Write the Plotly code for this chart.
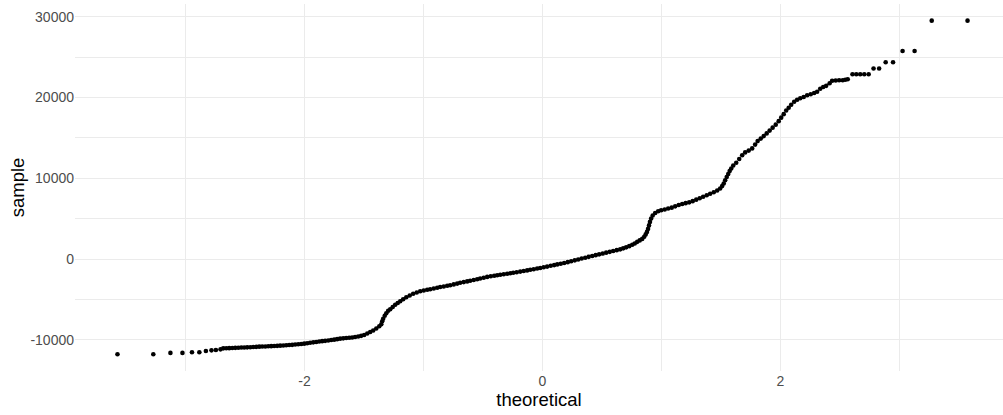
import plotly.graph_objects as go

# Theoretical normal quantiles (x) and sorted sample values (y)
theoretical = [
    -3.572, -3.271, -3.127, -3.026, -2.946, -2.884, -2.829, -2.782, -2.745, -2.706,
    -2.683, -2.658, -2.633, -2.607, -2.582, -2.557, -2.532, -2.507, -2.482, -2.456,
    -2.431, -2.406, -2.381, -2.356, -2.330, -2.305, -2.280, -2.255, -2.230, -2.205,
    -2.179, -2.154, -2.129, -2.104, -2.079, -2.053, -2.028, -2.003, -1.978, -1.953,
    -1.927, -1.902, -1.877, -1.852, -1.827, -1.801, -1.776, -1.751, -1.726, -1.701,
    -1.675, -1.650, -1.625, -1.600, -1.575, -1.549, -1.524, -1.499,
    -1.473, -1.448, -1.423, -1.397, -1.372, -1.355, -1.347, -1.339, -1.326, -1.313,
    -1.297, -1.280, -1.259, -1.238, -1.217, -1.196, -1.171, -1.145, -1.116, -1.087,
    -1.057, -1.028, -0.998, -0.969, -0.944, -0.914, -0.885, -0.860, -0.830, -0.801,
    -0.776, -0.746, -0.717, -0.692, -0.662, -0.633, -0.608, -0.578, -0.549, -0.524,
    -0.494, -0.465, -0.435, -0.406, -0.381, -0.355, -0.326, -0.297, -0.271, -0.246,
    -0.217, -0.187, -0.158, -0.129, -0.103, -0.074, -0.045, -0.019, 0.010, 0.039,
    0.069, 0.098, 0.124, 0.153, 0.182, 0.212, 0.241, 0.271, 0.300, 0.329,
    0.359, 0.388, 0.418, 0.447, 0.476, 0.506, 0.535, 0.565, 0.594, 0.624,
    0.653, 0.678, 0.703, 0.729, 0.754, 0.775, 0.796, 0.817, 0.838, 0.855,
    0.867, 0.878, 0.887, 0.895, 0.903, 0.913, 0.926, 0.947, 0.972, 0.997,
    1.027, 1.056, 1.086, 1.115, 1.145, 1.174, 1.203, 1.233, 1.262, 1.292,
    1.321, 1.350, 1.380, 1.409, 1.439, 1.468, 1.493, 1.510, 1.523, 1.535,
    1.548, 1.561, 1.573, 1.586, 1.603, 1.628, 1.653, 1.678, 1.703, 1.733,
    1.762, 1.787, 1.808, 1.834, 1.859, 1.884, 1.909, 1.934, 1.960, 1.985,
    2.006, 2.027, 2.048, 2.069, 2.090, 2.115, 2.140, 2.166, 2.195, 2.224,
    2.254, 2.283, 2.308, 2.334, 2.359, 2.384, 2.413, 2.434, 2.464, 2.493,
    2.523, 2.544, 2.565,
    2.605, 2.637, 2.670, 2.704, 2.741, 2.782, 2.829, 2.884, 2.946, 3.026,
    3.127, 3.271, 3.572,
]

sample = [
    -11778, -11778, -11605, -11605, -11531, -11531, -11358, -11284, -11235, -11161,
    -11037, -11025, -11013, -10988, -10976, -10963, -10939, -10926, -10914, -10902,
    -10877, -10852, -10827, -10815, -10803, -10778, -10766, -10741, -10729, -10704,
    -10679, -10655, -10630, -10605, -10568, -10531, -10494, -10457, -10408, -10346,
    -10297, -10247, -10198, -10148, -10111, -10062, -10013, -9963, -9902, -9840,
    -9803, -9766, -9729, -9692, -9642, -9581, -9494, -9383,
    -9198, -9013, -8827, -8581, -8297, -8050, -7679, -7371, -7000, -6692,
    -6383, -6198, -5914, -5642, -5420, -5210, -4963, -4716, -4494, -4284,
    -4124, -3975, -3877, -3790, -3728, -3630, -3543, -3457, -3383, -3296,
    -3235, -3124, -3025, -2926, -2840, -2753, -2679, -2580, -2482, -2395,
    -2296, -2198, -2124, -2049, -1988, -1938, -1864, -1803, -1741, -1679,
    -1617, -1543, -1469, -1395, -1321, -1247, -1161, -1099, -1012, -926,
    -827, -741, -654, -568, -481, -370, -259, -148, -37, 74,
    173, 284, 395, 494, 593, 691, 802, 901, 1000, 1111,
    1210, 1333, 1457, 1605, 1778, 1938, 2136, 2321, 2506, 2778,
    3062, 3370, 3741, 4173, 4605, 5037, 5408, 5716, 5926, 6050,
    6148, 6259, 6371, 6531, 6692, 6827, 6926, 7025, 7173, 7358,
    7531, 7716, 7901, 8087, 8284, 8494, 8741, 9050, 9358, 9753,
    10161, 10531, 10902, 11210, 11581, 11926, 12383, 12852, 13210, 13432,
    13704, 14173, 14605, 14914, 15222, 15556, 15902, 16272, 16642, 17075,
    17507, 17938, 18396, 18741, 19112, 19482, 19729, 19914, 20062, 20285,
    20408, 20556, 20717, 21087, 21297, 21445, 21766, 22075, 22099, 22136,
    22136, 22198, 22260,
    22877, 22877, 22877, 22877, 22877, 23581, 23581, 24359, 24359, 25754,
    25754, 29507, 29507,
]

x_tick_vals = [-2, 0, 2]
x_tick_text = ["-2", "0", "2"]
x_minor_vals = [-3, -1, 1, 3]
y_tick_vals = [-10000, 0, 10000, 20000, 30000]
y_tick_text = ["-10000", "0", "10000", "20000", "30000"]
y_minor_vals = [-5000, 5000, 15000, 25000]

FONT = "Liberation Sans, Arial, sans-serif"
GRID = "#EBEBEB"

fig = go.Figure()
fig.add_trace(go.Scatter(
    x=theoretical, y=sample, mode="markers",
    marker=dict(color="black", size=4.6, line=dict(width=0)),
    showlegend=False, hoverinfo="skip",
))

fig.update_layout(
    width=1003, height=415,
    margin=dict(l=75, r=0, t=4, b=44, autoexpand=False),
    paper_bgcolor="white", plot_bgcolor="white",
    font=dict(family=FONT, size=13.5, color="#4D4D4D"),
    showlegend=False,
)
fig.update_xaxes(
    automargin=False,
    range=[-3.929, 3.870],
    tickmode="array", tickvals=x_tick_vals, ticktext=x_tick_text,
    ticks="", showline=False, zeroline=False,
    showgrid=True, gridcolor=GRID, gridwidth=1.1,
    minor=dict(tickmode="array", tickvals=x_minor_vals, showgrid=True,
               gridcolor=GRID, gridwidth=0.8, ticks=""),
    tickfont=dict(family=FONT, size=14, color="#4D4D4D"),
    title=dict(text="theoretical", font=dict(family=FONT, size=18.5, color="black"), standoff=0),
)
fig.update_yaxes(
    automargin=False,
    range=[-13842, 31570],
    tickmode="array", tickvals=y_tick_vals, ticktext=y_tick_text,
    ticks="", showline=False, zeroline=False,
    showgrid=True, gridcolor=GRID, gridwidth=1.1,
    minor=dict(tickmode="array", tickvals=y_minor_vals, showgrid=True,
               gridcolor=GRID, gridwidth=0.8, ticks=""),
    tickfont=dict(family=FONT, size=14, color="#4D4D4D"),
    title=dict(text="sample", font=dict(family=FONT, size=18.5, color="black"), standoff=0),
)

fig.write_html(
    "out.html",
    config={"displayModeBar": False},
    post_script="document.body.style.margin='0';document.body.style.padding='0';document.body.style.overflow='hidden';",
)
